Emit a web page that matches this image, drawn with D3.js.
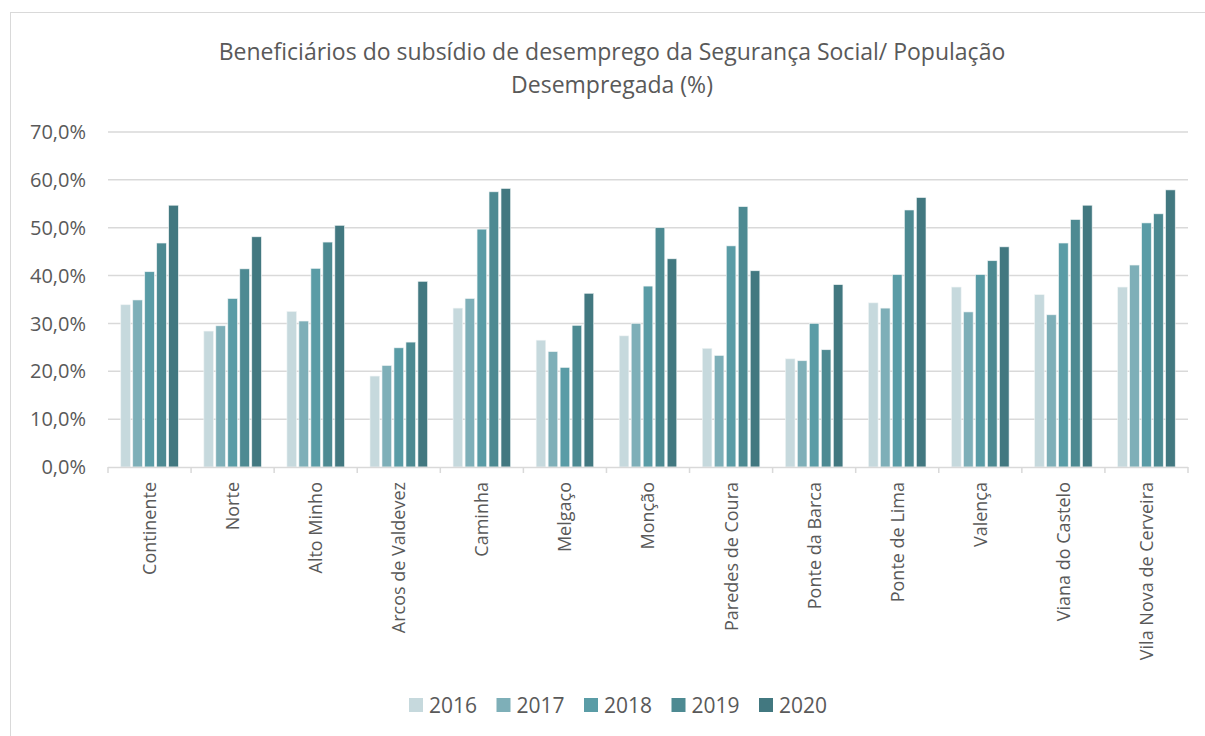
<!DOCTYPE html>
<html><head><meta charset="utf-8">
<script src="https://cdn.jsdelivr.net/npm/d3@7"></script>
<style>body{margin:0;background:#fff;} svg{display:block;font-family:"Open Sans", sans-serif;}</style>
</head><body>
<svg id="c" width="1205" height="736"></svg>
<script>
const categories = ["Continente","Norte","Alto Minho","Arcos de Valdevez","Caminha","Melgaço","Monção","Paredes de Coura","Ponte da Barca","Ponte de Lima","Valença","Viana do Castelo","Vila Nova de Cerveira"];
const years = ["2016","2017","2018","2019","2020"];
const v2016 = [33.9,28.4,32.5,19.0,33.2,26.5,27.4,24.8,22.6,34.3,37.6,36.0,37.6];
const v2017 = [34.9,29.5,30.5,21.2,35.2,24.1,30.0,23.3,22.2,33.2,32.4,31.8,42.2];
const v2018 = [40.8,35.2,41.5,24.9,49.7,20.8,37.8,46.2,30.0,40.2,40.2,46.8,51.0];
const v2019 = [46.8,41.4,47.0,26.1,57.5,29.6,50.0,54.4,24.5,53.7,43.1,51.7,52.9];
const v2020 = [54.7,48.1,50.5,38.8,58.2,36.3,43.5,41.0,38.1,56.3,46.0,54.7,57.9];
const yTicks = [0,10,20,30,40,50,60,70];
const colors = ["#c6d9dd","#7eafb8","#5a9ca6","#4d8a92","#427880"];
const series = [v2016,v2017,v2018,v2019,v2020];

const svg = d3.select("#c");
const W = 1205, H = 736;
// frame
svg.append("rect").attr("x",10.5).attr("y",12.5).attr("width",W+20).attr("height",H+20)
  .attr("fill","none").attr("stroke","#d9d9d9").attr("stroke-width",1);

const m = {left:108, right:1188, top:132, bottom:467};
const x0 = d3.scaleBand().domain(categories).range([m.left,m.right]).paddingInner(0.25).paddingOuter(0.125);
const xOuter = d3.scaleBand().domain(categories).range([m.left,m.right]);
const x1 = d3.scaleBand().domain(years).range([0,x0.bandwidth()]).padding(0.2);
const y = d3.scaleLinear().domain([0,70]).range([m.bottom,m.top]);

// gridlines
svg.append("g").selectAll("line").data(yTicks.filter(d=>d>0)).join("line")
  .attr("x1",m.left).attr("x2",m.right).attr("y1",d=>y(d)).attr("y2",d=>y(d))
  .attr("stroke","#d9d9d9").attr("stroke-width",1.5);

// y labels
const fmt = d => d.toFixed(1).replace(".",",")+"%";
svg.append("g").selectAll("text").data(yTicks).join("text")
  .attr("x",86).attr("y",d=>y(d)).attr("dy","0.36em").attr("text-anchor","end")
  .attr("fill","#595959").style("font-size","20px").text(fmt);

// bars
const g = svg.append("g");
categories.forEach((c,i)=>{
  series.forEach((s,j)=>{
    g.append("rect").attr("x",x0(c)+x1(years[j])).attr("y",y(s[i]))
      .attr("width",x1.bandwidth()).attr("height",y(0)-y(s[i]))
      .attr("fill",colors[j]).attr("stroke","#eef3f4").attr("stroke-width",0.6);
  });
});

// x axis
const xa = svg.append("g");
xa.append("line").attr("x1",m.left).attr("x2",m.right).attr("y1",m.bottom+0.5).attr("y2",m.bottom+0.5)
  .attr("stroke","#d9d9d9").attr("stroke-width",1.5);
const tickPos = categories.map(c=>xOuter(c)).concat([m.right]);
xa.selectAll("line.t").data(tickPos).join("line").attr("class","t")
  .attr("x1",d=>d).attr("x2",d=>d).attr("y1",m.bottom).attr("y2",m.bottom+6)
  .attr("stroke","#d9d9d9").attr("stroke-width",1.5);
xa.selectAll("text").data(categories).join("text")
  .attr("transform",c=>`translate(${xOuter(c)+xOuter.bandwidth()/2},482) rotate(-90)`)
  .attr("text-anchor","end").attr("dy","0.36em")
  .attr("fill","#595959").style("font-size","18px").text(c=>c);

// title
svg.append("text").attr("x",612).attr("y",60).attr("text-anchor","middle").attr("fill","#595959")
  .style("font-size","23px").text("Beneficiários do subsídio de desemprego da Segurança Social/ População");
svg.append("text").attr("x",612).attr("y",93).attr("text-anchor","middle").attr("fill","#595959")
  .style("font-size","23px").text("Desempregada (%)");

// legend
const lg = svg.append("g").selectAll("g").data(years).join("g")
  .attr("transform",(d,i)=>`translate(${409+i*87.5},698)`);
lg.append("rect").attr("width",14).attr("height",14).attr("fill",(d,i)=>colors[i]);
lg.append("text").attr("x",20).attr("y",7).attr("dy","0.36em").attr("fill","#595959")
  .style("font-size","21px").text(d=>d);
</script>
</body></html>
